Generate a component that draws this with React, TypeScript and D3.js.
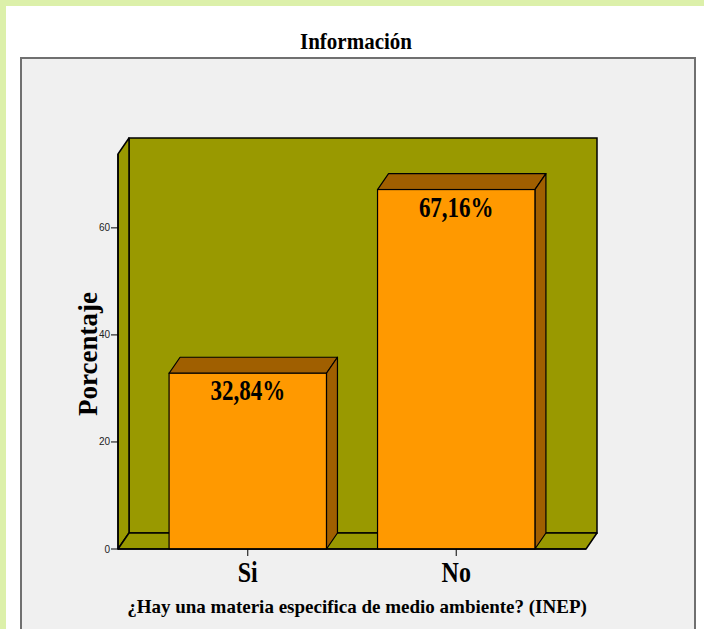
import React from 'react';
import * as d3 from 'd3';

// values
const categories = ['Si', 'No'];
const percentages = [32.84, 67.16];
const valueLabels = ['32,84%', '67,16%'];
const yTicks = [0, 20, 40, 60];

const chartTitle = 'Información';
const xTitle = '¿Hay una materia especifica de medio ambiente? (INEP)';
const yTitle = 'Porcentaje';

const W = 704;
const H = 629;
const serif = '"Liberation Serif", "Times New Roman", serif';
const sans = '"Liberation Sans", Arial, sans-serif';

// 3D depth of the plot box and bars
const dx = 11;
const dy = 16;

const App = () => {
  const left = 118;
  const right = 586;
  const bottom = 549;
  const top = 154;

  const x = d3.scaleBand<string>()
    .domain(categories)
    .range([left, right])
    .paddingInner(0.245)
    .paddingOuter(0.245);

  const y = d3.scaleLinear()
    .domain([0, 73.8])
    .range([bottom, top]);

  const pts = (p: [number, number][]) => p.map(d => d.join(',')).join(' ');
  const wall = '#999900';
  const stroke = '#000';

  return (
    <svg width={W} height={H} style={{ position: 'absolute', left: 0, top: 0 }}>
      <rect x={0} y={0} width={W} height={H} fill="#dcf0aa" />
      <rect x={6} y={6} width={W - 6} height={H - 6} fill="#ffffff" />
      <text x={356} y={49} textAnchor="middle" fontFamily={serif} fontWeight="bold"
        fontSize={21} transform="translate(356,49) scale(1,1.1) translate(-356,-49)">{chartTitle}</text>

      <rect x={21} y={58} width={674} height={H} fill="#f0f0f0" stroke="#707070" strokeWidth={2} />

      {/* back wall */}
      <rect x={left + dx} y={top - dy} width={right - left} height={bottom - top}
        fill={wall} stroke={stroke} strokeWidth={1.5} />
      {/* left wall */}
      <polygon points={pts([[left, top], [left + dx, top - dy], [left + dx, bottom - dy], [left, bottom]])}
        fill={wall} stroke={stroke} strokeWidth={1.5} strokeLinejoin="round" />
      {/* floor */}
      <polygon points={pts([[left, bottom], [left + dx, bottom - dy], [right + dx, bottom - dy], [right, bottom]])}
        fill={wall} stroke={stroke} strokeWidth={1.5} strokeLinejoin="round" />

      {/* bars */}
      {categories.map((c, i) => {
        const x0 = x(c)!;
        const x1 = x0 + x.bandwidth();
        const yt = y(percentages[i]);
        return (
          <g key={c}>
            <polygon points={pts([[x0, yt], [x0 + dx, yt - dy], [x1 + dx, yt - dy], [x1, yt]])}
              fill="#a05f00" stroke={stroke} strokeWidth={1.2} strokeLinejoin="round" />
            <polygon points={pts([[x1, yt], [x1 + dx, yt - dy], [x1 + dx, bottom - dy], [x1, bottom]])}
              fill="#a05f00" stroke={stroke} strokeWidth={1.2} strokeLinejoin="round" />
            <rect x={x0} y={yt} width={x1 - x0} height={bottom - yt}
              fill="#ff9900" stroke={stroke} strokeWidth={1.2} />
            <text textAnchor="middle" fontFamily={serif} fontWeight="bold" fontSize={23}
              transform={`translate(${(x0 + x1) / 2},${yt + 27}) scale(1,1.27)`}>{valueLabels[i]}</text>
          </g>
        );
      })}

      {/* y axis ticks */}
      {yTicks.map(t => (
        <g key={t}>
          <line x1={left - 7} x2={left} y1={y(t)} y2={y(t)} stroke="#000" strokeWidth={1} />
          <text x={left - 8} y={y(t)} dy="0.35em" textAnchor="end" fontFamily={sans}
            fontSize={10} fill="#222">{t}</text>
        </g>
      ))}
      <line x1={left} x2={left} y1={top} y2={bottom} stroke="#000" strokeWidth={1.5} />
      <line x1={left} x2={right} y1={bottom} y2={bottom} stroke="#000" strokeWidth={1.5} />

      {/* x axis ticks and labels */}
      {categories.map(c => {
        const cx = x(c)! + x.bandwidth() / 2;
        return (
          <g key={c}>
            <line x1={cx} x2={cx} y1={bottom} y2={bottom + 7} stroke="#000" strokeWidth={1} />
            <text textAnchor="middle" fontFamily={serif} fontWeight="bold" fontSize={24}
              transform={`translate(${cx},582) scale(1,1.2)`}>{c}</text>
          </g>
        );
      })}

      <text textAnchor="middle" fontFamily={serif} fontWeight="bold" fontSize={19}
        transform="translate(357,613)">{xTitle}</text>
      <text textAnchor="middle" fontFamily={serif} fontWeight="bold" fontSize={27}
        transform="translate(97,354) rotate(-90)">{yTitle}</text>
    </svg>
  );
};

export default App;
